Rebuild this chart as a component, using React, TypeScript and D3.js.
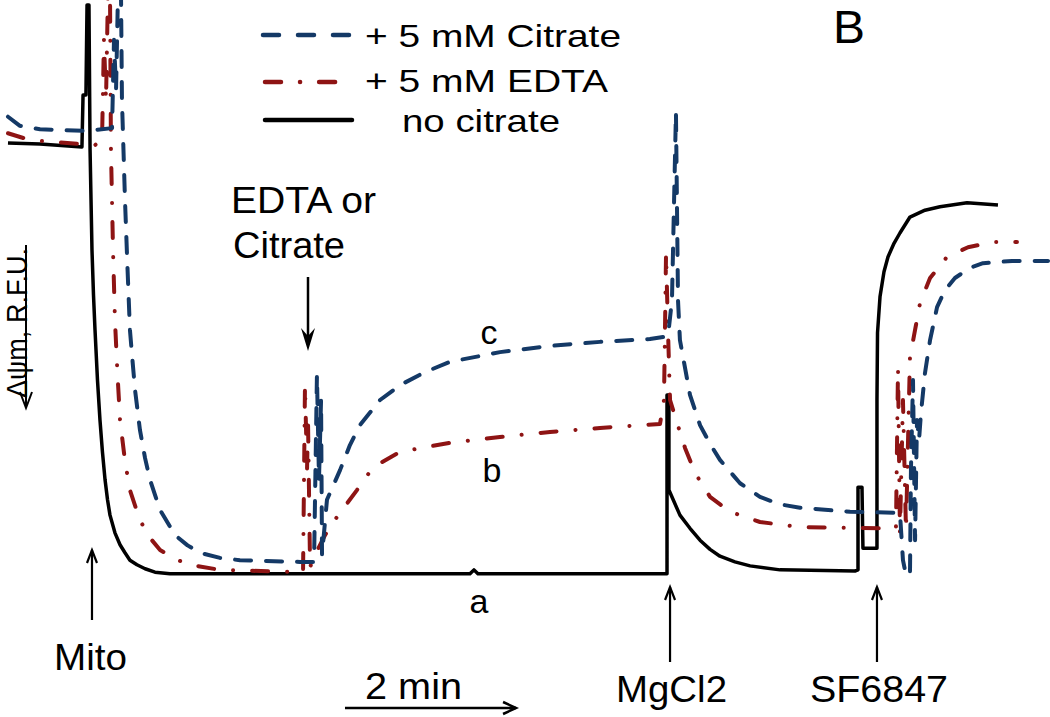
import React from "react";
import * as d3 from "d3";

type Pt = [number, number];

// time (s) vs fluorescence (R.F.U., arbitrary 0-100)
const noCitrate: Pt[] = [
  [5.8, 75.8], [29.1, 75.6], [59.6, 75.1], [60.4, 84.2], [62.5, 84.2], [63.3, 100], [64.7, 100],
  [65.5, 74.6], [66.2, 65.8], [66.9, 57.0], [68.0, 49.1], [69.1, 43.0], [70.9, 34.2], [72.7, 27.2],
  [74.5, 21.6], [76.4, 16.7], [78.2, 13.2], [80.0, 10.5], [83.6, 7.4], [87.3, 5.3], [90.9, 3.9],
  [94.5, 2.6], [99.6, 1.8], [105.5, 1.1], [112.7, 0.5], [123.6, 0.2], [341.8, 0.2], [344.7, 0.9],
  [347.6, 0.2], [485.1, 0.2], [485.1, 31.6], [486.5, 31.6], [486.5, 14.9], [494.5, 10.5],
  [501.8, 8.2], [509.1, 6.1], [516.4, 4.5], [523.6, 3.3], [534.5, 2.3], [545.5, 1.6], [567.3, 0.9],
  [621.8, 0.7], [624.0, 0.9], [624.0, 15.4], [626.9, 15.4], [627.6, 4.7], [637.8, 4.7],
  [637.8, 30.7], [638.2, 42.5], [640.0, 48.8], [642.9, 53.2], [645.8, 55.8], [650.2, 58.2],
  [654.5, 60.0], [661.8, 62.8], [672.7, 64.0], [683.6, 64.6], [703.3, 65.3], [725.8, 64.9],
];

const citrate: Pt[] = [
  [5.8, 80.4], [14.5, 78.8], [29.1, 78.2], [62.5, 77.9], [81.5, 78.4], [82.9, 93.9], [84.4, 85.1],
  [85.8, 102], [88.0, 102], [88.7, 83.3], [90.9, 65.8], [92.7, 54.0], [94.5, 43.0], [96.4, 37.5],
  [98.2, 32.5], [101.8, 25.4], [105.5, 20.5], [109.1, 16.7], [116.4, 11.4], [127.3, 7.0],
  [136.4, 5.2], [145.5, 3.9], [160.0, 3.0], [174.5, 2.6], [218.2, 2.3], [228.4, 2.3],
  [230.5, 35.1], [232.0, 16.7], [233.5, 30.7], [234.2, 3.5], [237.8, 13.2], [247.3, 18.4],
  [254.5, 22.8], [261.8, 26.3], [276.4, 30.7], [290.9, 33.3], [309.1, 35.6], [327.3, 37.4],
  [363.6, 39.1], [400.0, 40.2], [436.4, 40.9], [472.7, 41.4], [485.8, 41.9], [488.7, 48.2],
  [491.6, 81.2], [493.1, 48.2], [494.5, 41.2], [501.8, 31.6], [509.1, 26.3], [516.4, 23.0],
  [523.6, 20.2], [538.2, 16.1], [552.7, 13.7], [567.3, 12.4], [581.8, 11.8], [618.2, 11.1],
  [654.5, 10.9], [656.7, 2.6], [658.9, 0], [661.8, 0], [662.5, 18.4], [664.0, 34.2], [665.5, 6.1],
  [666.9, 27.2], [668.4, 23.7], [669.8, 28.4], [672.7, 35.4], [676.4, 41.2], [681.5, 47.0],
  [687.3, 50.0], [694.5, 52.1], [705.5, 53.9], [714.9, 54.7], [736.0, 55.1], [762.2, 55.1],
];

const edta: Pt[] = [
  [5.8, 77.5], [21.8, 76.3], [58.2, 75.6], [68.4, 75.3], [74.2, 76.3], [75.6, 93.9], [77.1, 83.3],
  [78.5, 102], [80.0, 102], [80.7, 74.6], [82.2, 57.0], [83.6, 44.7], [85.5, 35.0], [87.3, 27.2],
  [90.9, 20.0], [94.5, 14.9], [101.8, 9.6], [109.1, 6.5], [116.4, 4.4], [127.3, 2.8], [138.2, 1.8],
  [160.0, 0.9], [218.2, 0.5], [220.4, 0.5], [221.8, 33.3], [223.3, 18.4], [224.0, 27.2],
  [225.5, 1.4], [229.1, 3.5], [236.4, 7.0], [245.1, 10.2], [259.6, 14.9], [271.3, 18.9],
  [290.9, 21.6], [327.3, 23.2], [363.6, 24.2], [400.0, 25.1], [436.4, 25.8], [480.0, 26.5],
  [482.9, 30.7], [484.4, 56.5], [485.8, 43.0], [487.3, 30.7], [492.4, 26.7], [498.2, 22.3],
  [505.5, 17.9], [516.4, 13.7], [530.9, 11.1], [552.7, 9.3], [581.8, 8.4], [640.0, 8.2],
  [651.6, 8.2], [653.1, 36.3], [654.5, 7.4], [656.7, 30.7], [658.9, 7.9], [661.8, 38.2],
  [665.5, 43.0], [669.1, 47.7], [676.4, 52.1], [688.7, 55.8], [704.0, 57.5], [722.2, 58.4],
  [739.6, 58.4],
];

const legendLabels = ["+ 5 mM Citrate", "+ 5 mM EDTA", "no citrate"];
const eventLabels = ["Mito", "MgCl2", "SF6847"];
const eventTimes = [66.9, 487.3, 637.8];
const addTime = 224.0;
const scaleBarStart = 250.9;
const scaleBarSeconds = 124.4;

const BLUE = "#143966";
const RED = "#8e1414";
const FONT = "'Liberation Sans', Arial, sans-serif";

export default function App() {
  const x = d3.scaleLinear().domain([0, 760]).range([0, 1045]);
  const y = d3.scaleLinear().domain([0, 100]).range([575, 5]);
  const line = d3.line<Pt>().x((d) => x(d[0])).y((d) => y(d[1]));

  const upArrow = (px: number, tip: number, bottom: number, key: string) => (
    <g key={key} stroke="#000" strokeWidth={2.2} fill="none">
      <line x1={px} y1={tip} x2={px} y2={bottom} />
      <path d={`M${px - 5},${tip + 13} L${px},${tip} L${px + 5},${tip + 13}`} />
    </g>
  );

  const evTips = [550, 587, 587];
  const evBottoms = [620, 662, 662];
  const evLabelX = [54, 616, 810];
  const evLabelW = [73, 111, 138];
  const evLabelY = [670, 702, 702];

  const ax = x(addTime);
  const sb0 = x(scaleBarStart);
  const sb1 = x(scaleBarStart + scaleBarSeconds);

  return (
    <svg
      width={1050}
      height={717}
      style={{ position: "fixed", left: 0, top: 0, background: "#fff" }}
      fontFamily={FONT}
    >
      <rect width={1050} height={717} fill="#fff" />
      {/* traces */}
      <path d={line(noCitrate) || ""} fill="none" stroke="#000" strokeWidth={3.5} strokeLinejoin="round" />
      <path
        d={line(edta) || ""}
        fill="none"
        stroke={RED}
        strokeWidth={4}
        strokeLinecap="round"
        strokeLinejoin="round"
        strokeDasharray="16,19,0.1,19"
      />
      <path
        d={line(citrate) || ""}
        fill="none"
        stroke={BLUE}
        strokeWidth={4}
        strokeLinecap="round"
        strokeLinejoin="round"
        strokeDasharray="16,15"
      />

      {/* legend */}
      <g>
        <line x1={263} y1={35} x2={351} y2={35} stroke={BLUE} strokeWidth={4.5} strokeLinecap="round" strokeDasharray="16,19" />
        <line x1={265} y1={82} x2={340} y2={82} stroke={RED} strokeWidth={4.5} strokeLinecap="round" strokeDasharray="16,19,0.1,19" />
        <line x1={265} y1={120} x2={352} y2={120} stroke="#000" strokeWidth={4.5} strokeLinecap="round" />
        <text x={365} y={47} fontSize={32} textLength={256} lengthAdjust="spacingAndGlyphs">{legendLabels[0]}</text>
        <text x={365} y={92} fontSize={32} textLength={243} lengthAdjust="spacingAndGlyphs">{legendLabels[1]}</text>
        <text x={402} y={132} fontSize={32} textLength={158} lengthAdjust="spacingAndGlyphs">{legendLabels[2]}</text>
      </g>

      <text x={833} y={43} fontSize={46} textLength={32} lengthAdjust="spacingAndGlyphs">B</text>

      {/* y label */}
      <g>
        <line x1={26} y1={245} x2={26} y2={406} stroke="#000" strokeWidth={2} />
        <path d="M20,392 L26,408 L32,392" fill="none" stroke="#000" strokeWidth={2} />
        <text
          transform="translate(27,398) rotate(-90)"
          fontSize={29}
          textLength={150}
          lengthAdjust="spacingAndGlyphs"
        >
          Δψm, R.F.U.
        </text>
      </g>

      {/* addition arrow */}
      <text x={231} y={213} fontSize={36} textLength={145} lengthAdjust="spacingAndGlyphs">EDTA or</text>
      <text x={233} y={258} fontSize={36} textLength={112} lengthAdjust="spacingAndGlyphs">Citrate</text>
      <line x1={ax} y1={277} x2={ax} y2={340} stroke="#000" strokeWidth={2.5} />
      <path d={`M${ax - 7},${328} L${ax},${351} L${ax + 7},${328} L${ax},${336} Z`} fill="#000" />

      {/* trace labels */}
      <text x={489} y={344} fontSize={34} textAnchor="middle">c</text>
      <text x={492} y={482} fontSize={34} textAnchor="middle">b</text>
      <text x={479} y={613} fontSize={34} textAnchor="middle">a</text>

      {/* event arrows */}
      {eventTimes.map((t, i) => upArrow(x(t), evTips[i], evBottoms[i], "ev" + i))}
      {eventLabels.map((l, i) => (
        <text key={l} x={evLabelX[i]} y={evLabelY[i]} fontSize={36} textLength={evLabelW[i]} lengthAdjust="spacingAndGlyphs">
          {l}
        </text>
      ))}

      {/* scale bar */}
      <text x={365} y={699} fontSize={36} textLength={97} lengthAdjust="spacingAndGlyphs">2 min</text>
      <line x1={sb0} y1={708} x2={sb1} y2={708} stroke="#000" strokeWidth={2.5} />
      <path d={`M${sb1 - 13},${702} L${sb1},${708} L${sb1 - 13},${714}`} fill="none" stroke="#000" strokeWidth={2.5} />
    </svg>
  );
}
